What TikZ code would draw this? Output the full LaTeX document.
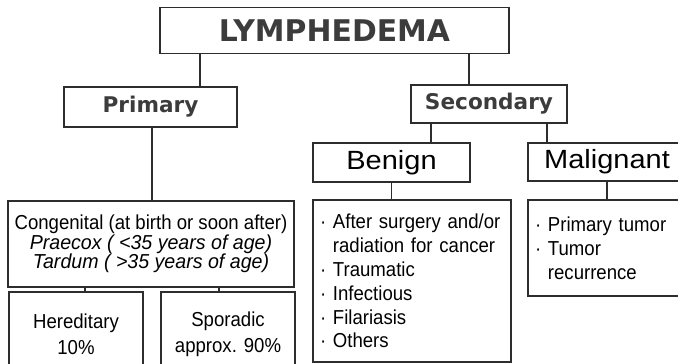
\documentclass[tikz,border=0pt]{standalone}
\usepackage{fontspec}
\setmainfont{Liberation Sans}[FakeStretch=0.92,ItalicFeatures={FakeStretch=0.97}]
\newfontfamily\headfont{DejaVu Sans}
\newfontfamily\subfont{Liberation Sans}[FakeStretch=1.1]
\usetikzlibrary{positioning}
\definecolor{lymline}{RGB}{45,45,45}
\definecolor{lymhead}{RGB}{60,60,60}
\tikzset{box/.style={draw=lymline,line width=0.7pt,inner sep=0pt,align=center,
    font=\fontsize{11.5}{11}\selectfont},
  sz/.style 2 args={minimum width=#1*0.02cm,minimum height=#2*0.02cm},
  head/.style={box,text=lymhead,font=\headfont\bfseries\fontsize{12.3}{14}\selectfont},
  sub/.style={box,font=\subfont\fontsize{15}{18}\selectfont},
  listbox/.style={box,align=left,inner xsep=0.14cm,font=\fontsize{11.5}{13.6}\selectfont},
  link/.style={draw=lymline,line width=0.7pt}}

\begin{document}
\begin{tikzpicture}[x=0.02cm,y=-0.02cm]
\clip (0,0) rectangle (678,364);
% top levels
\node[head, sz={349}{46}, font=\headfont\bfseries\fontsize{17}{20}\selectfont] (lym) at (334.5,30.5) {LYMPHEDEMA};
\node[head, sz={173}{40}] (prim) at (150.5,107) {Primary};
\node[head, sz={156}{38}] (sec) at (489,104) {Secondary};
\node[sub, sz={157}{39}] (ben) at (391.5,162.5) {Benign};
\node[sub, sz={158}{38}] (mal) at (607,162) {Malignant};
% primary branch
\node[box, sz={286}{86}] (cong) at (151,244) {Congenital (at birth or soon after)\\
  \textit{Praecox ( <35 years of age)}\\\textit{Tardum ( >35 years of age)}};
\node[box, sz={134}{84}, font=\fontsize{11.5}{15}\selectfont] (her) at (76,334) {Hereditary\\10\%};
\node[box, sz={134}{84}, font=\fontsize{11.5}{15}\selectfont] (spor) at (228,334) {Sporadic\\approx. 90\%};
% secondary branch
\node[listbox, sz={198}{162}, text width=3.68cm] (benl) at (412,281) {·\ After surgery and/or\\
  \hphantom{·\ }radiation for cancer\\·\ Traumatic\\·\ Infectious\\·\ Filariasis\\·\ Others};
\node[listbox, sz={158}{96}, text width=2.88cm] (mall) at (607,248) {·\ Primary tumor\\
  ·\ Tumor\\\hphantom{·\ }recurrence};
% connectors
\draw[link] (lym.south -| 200,0) -- (prim.north -| 200,0);
\draw[link] (lym.south -| 469,0) -- (sec.north -| 469,0);
\draw[link] (prim.south -| 152,0) -- (cong.north -| 152,0);
\draw[link] (sec.south -| 431,0) -- (ben.north -| 431,0);
\draw[link] (sec.south -| 547,0) -- (mal.north -| 547,0);
\draw[link] (cong.south -| 85,0) -- (her.north -| 85,0);
\draw[link] (cong.south -| 219,0) -- (spor.north -| 219,0);
\draw[link] (ben.south) -- (benl.north -| ben.south);
\draw[link] (mal.south) -- (mall.north -| mal.south);
\end{tikzpicture}
\end{document}
